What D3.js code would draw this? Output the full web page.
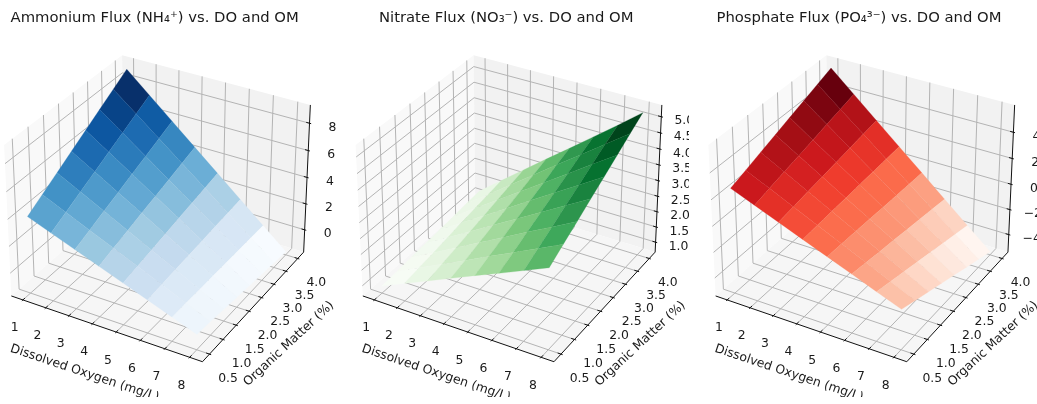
<!DOCTYPE html>
<html>
<head>
<meta charset="utf-8">
<script src="https://cdn.jsdelivr.net/npm/d3@7"></script>
<style>
  html, body { margin: 0; padding: 0; background: #fff; }
  svg { display: block; font-family: "DejaVu Sans", sans-serif; filter: blur(0.45px); }
  .grid { fill: none; stroke: #b4b4b4; stroke-width: 1; }
  .axis { fill: none; stroke: #111; stroke-width: 1; }
  text { fill: #1a1a1a; }
</style>
</head>
<body>
<svg id="chart" width="1037" height="404"></svg>
<script>
let svgWidth = 1037;
let svgHeight = 404;

// x and y grid of the three surfaces
const doValues = [1, 2, 3, 4, 5, 6, 7, 8];
const omValues = [0.5, 1.0, 1.5, 2.0, 2.5, 3.0, 3.5, 4.0];

// flux values, one row per organic matter value
const ammoniumFlux = [
    [4.00, 3.34, 2.69, 2.03, 1.37, 0.72, 0.06, -0.60],
    [4.70, 3.93, 3.15, 2.38, 1.60, 0.83, 0.05, -0.72],
    [5.40, 4.51, 3.62, 2.72, 1.83, 0.94, 0.04, -0.85],
    [6.10, 5.09, 4.08, 3.07, 2.05, 1.04, 0.03, -0.98],
    [6.80, 5.67, 4.54, 3.41, 2.28, 1.15, 0.02, -1.11],
    [7.50, 6.25, 5.00, 3.75, 2.51, 1.26, 0.01, -1.24],
    [8.20, 6.83, 5.47, 4.10, 2.73, 1.36, 0.00, -1.37],
    [8.90, 7.41, 5.93, 4.44, 2.96, 1.47, -0.01, -1.50]
];
const nitrateFlux = [
    [0.90, 1.23, 1.56, 1.89, 2.22, 2.54, 2.87, 3.20],
    [0.94, 1.31, 1.67, 2.03, 2.40, 2.76, 3.12, 3.49],
    [0.99, 1.38, 1.78, 2.18, 2.58, 2.98, 3.37, 3.77],
    [1.03, 1.46, 1.89, 2.33, 2.76, 3.19, 3.63, 4.06],
    [1.07, 1.54, 2.00, 2.47, 2.94, 3.41, 3.87, 4.34],
    [1.11, 1.62, 2.12, 2.62, 3.12, 3.62, 4.13, 4.63],
    [1.16, 1.69, 2.23, 2.77, 3.31, 3.84, 4.38, 4.92],
    [1.20, 1.77, 2.34, 2.91, 3.47, 4.04, 4.61, 5.20]
];
const phosphateFlux = [
    [2.66, 1.95, 1.23, 0.52, -0.19, -0.90, -1.62, -2.33],
    [3.09, 2.26, 1.43, 0.59, -0.24, -1.07, -1.90, -2.74],
    [3.53, 2.58, 1.62, 0.67, -0.28, -1.24, -2.19, -3.14],
    [3.96, 2.89, 1.82, 0.74, -0.33, -1.40, -2.47, -3.55],
    [4.40, 3.20, 2.01, 0.82, -0.38, -1.57, -2.76, -3.95],
    [4.83, 3.52, 2.20, 0.89, -0.42, -1.73, -3.05, -4.36],
    [5.27, 3.83, 2.40, 0.97, -0.47, -1.90, -3.33, -4.76],
    [5.70, 4.15, 2.59, 1.04, -0.51, -2.07, -3.62, -5.17]
];

// tick labels
const doTicks = [1, 2, 3, 4, 5, 6, 7, 8];
const omTicks = [0.5, 1.0, 1.5, 2.0, 2.5, 3.0, 3.5, 4.0];
const ammoniumTicks = [0, 2, 4, 6, 8];
const nitrateTicks = [1.0, 1.5, 2.0, 2.5, 3.0, 3.5, 4.0, 4.5, 5.0];
const phosphateTicks = [-4, -2, 0, 2, 4];

const titles = [
    "Ammonium Flux (NH₄⁺) vs. DO and OM",
    "Nitrate Flux (NO₃⁻) vs. DO and OM",
    "Phosphate Flux (PO₄³⁻) vs. DO and OM"
];

// edges of the panes in data units
const doLimits = [0.49, 8.51];
const omLimits = [0.245, 4.255];
const ammoniumLimits = [-1.74, 9.32];
const nitrateLimits = [0.67, 5.36];
const phosphateLimits = [-5.42, 6.05];

// same view as a matplotlib 3d axes: elev 30, azim -60, dist 10
const dist = 10;
const eyeDir = [0.433, -0.75, 0.5];
const uDir = [0.866, 0.5, 0];
const vDir = [-0.25, 0.433, 0.866];
const halfX = 0.6201, halfY = 0.6201, halfZ = 0.4651;
const pxX = 1765, pxY = 1850;
const originX = 160.3, originY = 200.8;

const panelOffsets = [0, 351.5, 704.3];
const clipRight = [346, 689, 1037];

function dot(a, b) {
    return a[0] * b[0] + a[1] * b[1] + a[2] * b[2];
}

function ticksFmt(ticks) {
    // all labels of one axis get the same number of decimals
    let decimals = ticks.some(t => t % 1 !== 0) ? ".1f" : ".0f";
    return d3.format(decimals);
}

function draw_panel(svg, index, flux, zTicks, zLimits, colors) {
    let offset = panelOffsets[index];

    let xScale = d3.scaleLinear().domain(doLimits).range([-halfX, halfX]);
    let yScale = d3.scaleLinear().domain(omLimits).range([-halfY, halfY]);
    let zScale = d3.scaleLinear().domain(zLimits).range([-halfZ, halfZ]);

    function project(x, y, z) {
        let p = [xScale(x), yScale(y), zScale(z)];
        let depth = dist - dot(p, eyeDir);
        return [originX + pxX * dot(p, uDir) / depth, originY - pxY * dot(p, vDir) / depth];
    }
    function depthOf(x, y, z) {
        return dist - dot([xScale(x), yScale(y), zScale(z)], eyeDir);
    }

    let line = d3.line();
    let [x0, x1] = doLimits;
    let [y0, y1] = omLimits;
    let [z0, z1] = zLimits;

    svg.append("clipPath").attr("id", "clip" + index)
        .append("rect")
        .attr("x", index === 0 ? 0 : clipRight[index - 1])
        .attr("y", 0)
        .attr("width", clipRight[index] - (index === 0 ? 0 : clipRight[index - 1]))
        .attr("height", 397);

    let root = svg.append("g").attr("clip-path", "url(#clip" + index + ")");
    let g = root.append("g").attr("transform", "translate(" + offset + ",0)");

    // panes
    let panes = [
        {fill: "#f9f9f9", pts: [[x0, y0, z0], [x0, y1, z0], [x0, y1, z1], [x0, y0, z1]]},
        {fill: "#f2f2f2", pts: [[x0, y1, z0], [x1, y1, z0], [x1, y1, z1], [x0, y1, z1]]},
        {fill: "#f6f6f6", pts: [[x0, y0, z0], [x1, y0, z0], [x1, y1, z0], [x0, y1, z0]]}
    ];
    g.selectAll(".pane").data(panes).join("path")
        .attr("class", "pane")
        .attr("fill", d => d.fill)
        .attr("d", d => line(d.pts.map(p => project(p[0], p[1], p[2]))) + "Z");

    // grid lines bend at the pane edges
    doTicks.forEach(function(t) {
        g.append("path").attr("class", "grid")
            .attr("d", line([project(t, y0, z0), project(t, y1, z0), project(t, y1, z1)]));
    });
    omTicks.forEach(function(t) {
        g.append("path").attr("class", "grid")
            .attr("d", line([project(x1, t, z0), project(x0, t, z0), project(x0, t, z1)]));
    });
    zTicks.forEach(function(t) {
        g.append("path").attr("class", "grid")
            .attr("d", line([project(x0, y0, t), project(x0, y1, t), project(x1, y1, t)]));
    });

    // axis lines
    g.append("path").attr("class", "axis").attr("d", line([project(x0, y0, z0), project(x1, y0, z0)]));
    g.append("path").attr("class", "axis").attr("d", line([project(x1, y0, z0), project(x1, y1, z0)]));
    g.append("path").attr("class", "axis").attr("d", line([project(x1, y1, z0), project(x1, y1, z1)]));

    let dx = (x1 - x0) / 12, dy = (y1 - y0) / 12;
    doTicks.forEach(function(t) {
        g.append("path").attr("class", "axis")
            .attr("d", line([project(t, y0 - 0.1 * dy, z0), project(t, y0 + 0.2 * dy, z0)]));
    });
    omTicks.forEach(function(t) {
        g.append("path").attr("class", "axis")
            .attr("d", line([project(x1 + 0.1 * dx, t, z0), project(x1 - 0.2 * dx, t, z0)]));
    });
    zTicks.forEach(function(t) {
        g.append("path").attr("class", "axis")
            .attr("d", line([project(x1 + 0.1 * dx, y1, t), project(x1 - 0.2 * dx, y1, t)]));
    });

    // surface cells, painted back to front
    let cells = [];
    for (let i = 0; i < omValues.length - 1; i++) {
        for (let j = 0; j < doValues.length - 1; j++) {
            let corners = [
                [doValues[j], omValues[i], flux[i][j]],
                [doValues[j + 1], omValues[i], flux[i][j + 1]],
                [doValues[j + 1], omValues[i + 1], flux[i + 1][j + 1]],
                [doValues[j], omValues[i + 1], flux[i + 1][j]]
            ];
            cells.push({
                corners: corners,
                value: d3.mean(corners, c => c[2]),
                depth: d3.mean(corners, c => depthOf(c[0], c[1], c[2]))
            });
        }
    }
    cells.sort((a, b) => d3.descending(a.depth, b.depth));

    let extent = d3.extent(cells, d => d.value);
    let colorScale = d3.scaleLinear()
        .domain(colors.map((c, i) => extent[0] + (extent[1] - extent[0]) * i / (colors.length - 1)))
        .range(colors);

    g.selectAll(".cell").data(cells).join("path")
        .attr("class", "cell")
        .attr("fill", d => colorScale(d.value))
        .attr("stroke", d => colorScale(d.value))
        .attr("stroke-width", 0.25)
        .attr("d", d => line(d.corners.map(c => project(c[0], c[1], c[2]))) + "Z");

    // tick labels
    let xFmt = ticksFmt(doTicks), yFmt = ticksFmt(omTicks), zFmt = ticksFmt(zTicks);
    doTicks.forEach(function(t) {
        let p = project(t, y0, z0);
        g.append("text").attr("x", p[0] - 8.3).attr("y", p[1] + 27)
            .attr("text-anchor", "middle").attr("dominant-baseline", "central")
            .attr("font-size", 12.4).text(xFmt(t));
    });
    omTicks.forEach(function(t) {
        let p = project(x1, t, z0);
        g.append("text").attr("x", p[0] + 18.5).attr("y", p[1] + 23)
            .attr("text-anchor", "middle").attr("dominant-baseline", "central")
            .attr("font-size", 12.4).text(yFmt(t));
    });
    zTicks.forEach(function(t) {
        let p = project(x1, y1, t);
        g.append("text").attr("x", p[0] + 23).attr("y", p[1] + 3)
            .attr("text-anchor", "middle").attr("dominant-baseline", "central")
            .attr("font-size", 12.4).text(zFmt(t).replace("-", "−"));
    });

    // titles and axis labels
    g.append("text").attr("x", 154.7).attr("y", 21.5)
        .attr("text-anchor", "middle").attr("font-size", 14.8).text(titles[index]);
    g.append("text")
        .attr("transform", "translate(85,372) rotate(18.6)")
        .attr("text-anchor", "middle").attr("dominant-baseline", "central")
        .attr("font-size", 12.4).text("Dissolved Oxygen (mg/L)");
    g.append("text")
        .attr("transform", "translate(288,343) rotate(-43)")
        .attr("text-anchor", "middle").attr("dominant-baseline", "central")
        .attr("font-size", 12.4).text("Organic Matter (%)");
}

let svg = d3.select("#chart");
draw_panel(svg, 0, ammoniumFlux, ammoniumTicks, ammoniumLimits, d3.schemeBlues[9]);
draw_panel(svg, 1, nitrateFlux, nitrateTicks, nitrateLimits, d3.schemeGreens[9]);
draw_panel(svg, 2, phosphateFlux, phosphateTicks, phosphateLimits, d3.schemeReds[9]);
</script>
</body>
</html>
